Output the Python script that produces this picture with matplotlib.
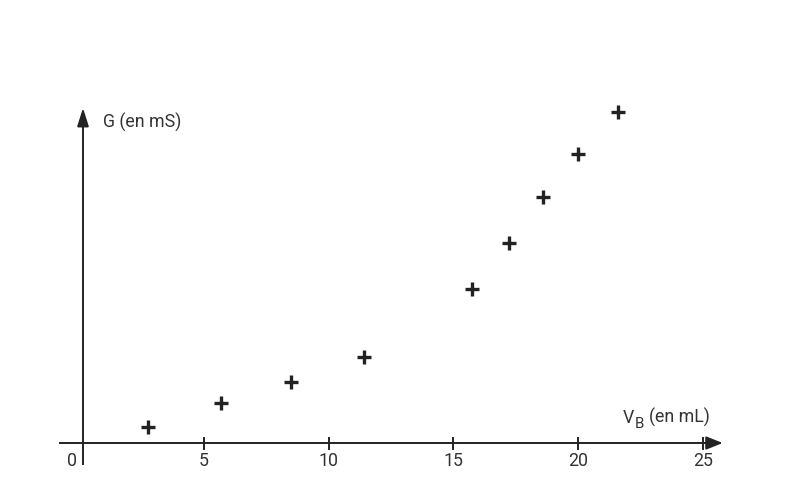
import matplotlib
matplotlib.use("Agg")
import matplotlib.pyplot as plt

# Data (G in arbitrary units, no scale shown)
V_B = [2.75, 5.69, 8.50, 11.43, 15.74, 17.23, 18.60, 19.99, 21.59]
G = [1.57, 3.97, 6.13, 8.57, 15.37, 20.03, 24.63, 28.87, 33.13]
x_ticks = [5, 10, 15, 20, 25]

plt.rcParams['font.family'] = ['Roboto', 'DejaVu Sans']

W, H = 795, 486
fig = plt.figure(figsize=(W / 100, H / 100), dpi=100)
ax = fig.add_axes([0, 0, 1, 1])
px_per_x = 24.95
x0_px = 79
ax.set_xlim(-x0_px / px_per_x, (W - x0_px) / px_per_x)
ax.set_ylim(-4.3, (H - 43) / 10)
ax.axis('off')

col = '#222222'
txt = '#333333'
fs = 12.8

# x axis with arrow
ax.plot([-0.8, 25.3], [0, 0], color=col, lw=1.4, solid_capstyle='butt')
ax.annotate('', xy=(25.8, 0), xytext=(25.0, 0),
            arrowprops=dict(arrowstyle='-|>,head_length=1.0,head_width=0.4',
                            color=col, lw=1.4, shrinkA=0, shrinkB=0))
# y axis with arrow
yx = 0.16
ax.plot([yx, yx], [-2.2, 32.5], color=col, lw=1.4, solid_capstyle='butt')
ax.annotate('', xy=(yx, 33.5), xytext=(yx, 31.5),
            arrowprops=dict(arrowstyle='-|>,head_length=1.1,head_width=0.35',
                            color=col, lw=1.4, shrinkA=0, shrinkB=0))

# ticks and labels
for t in x_ticks:
    ax.plot([t, t], [-0.55, 0.55], color=col, lw=1.4)
    ax.text(t, -0.9, str(t), ha='center', va='top', fontsize=fs, color=txt)
ax.text(-0.28, -0.9, '0', ha='center', va='top', fontsize=fs, color=txt)

ax.text(0.98, 32.1, 'G (en mS)', ha='left', va='center', fontsize=fs, color=txt)

# V_B label built from pieces
ax.text(21.8, 2.0, 'V', ha='left', va='baseline', fontsize=fs, color=txt)
ax.text(22.27, 1.5, 'B', ha='left', va='baseline', fontsize=fs * 0.85, color=txt)
ax.text(22.85, 2.0, '(en mL)', ha='left', va='baseline', fontsize=fs, color=txt)

# data points
ax.plot(V_B, G, linestyle='none', marker='+', markersize=10, markeredgewidth=2.4, color=col)

fig.savefig('out.png', dpi=100)
